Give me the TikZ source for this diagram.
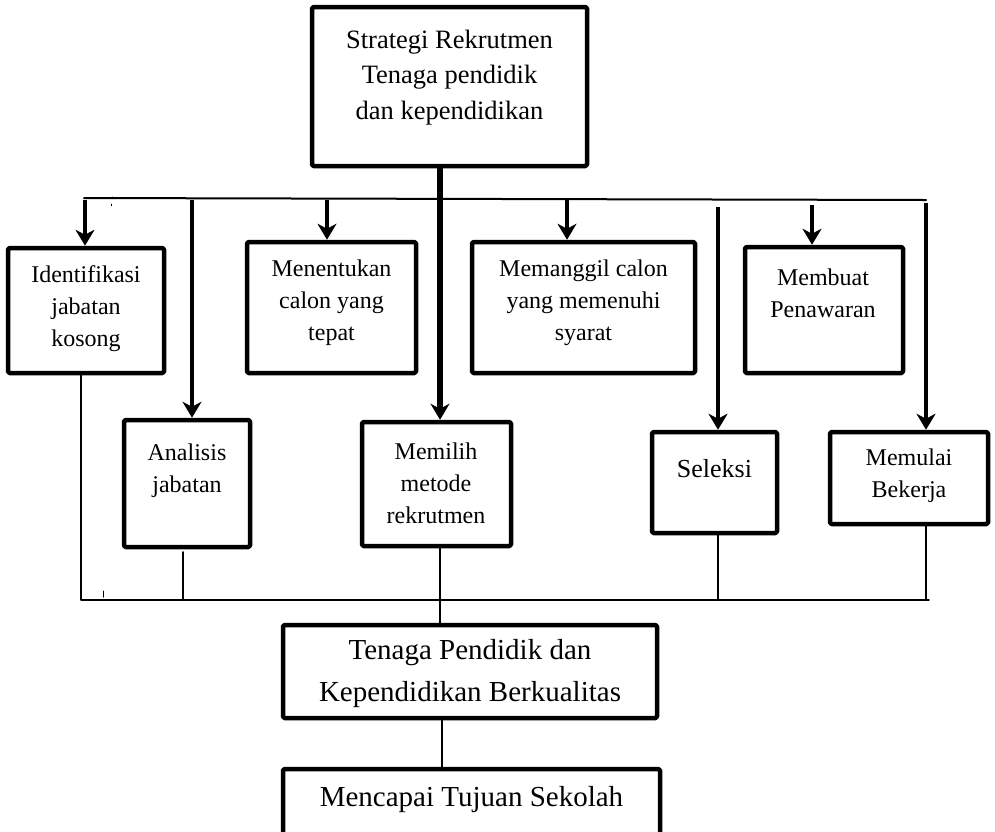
\documentclass[tikz,border=0pt]{standalone}
\usepackage{fontspec}
\setmainfont{Liberation Serif}
\usetikzlibrary{arrows.meta}

\begin{document}
\begin{tikzpicture}[line cap=round,line join=round,>={Stealth[length=16pt,width=19pt,inset=5pt]},x=1pt,y=-1pt,
		kotak/.style={draw,line width=4.5pt,rounded corners=1.5pt,inner sep=0pt},
		teks/.style={align=center,inner sep=0pt,font=\fontsize{24}{32}\selectfont},
		panah/.style={->,line width=4pt,line cap=butt},
		garis/.style={line width=1.6pt}]
		\useasboundingbox (0,0) rectangle (995,831);
		\clip (0,0) rectangle (995,831);
		% kotak
		\node[kotak,minimum width=275pt,minimum height=159pt] (strategi) at (449.5,86.5) {};
		\node[kotak,minimum width=156pt,minimum height=125pt] (iden) at (86,310.5) {};
		\node[kotak,minimum width=126pt,minimum height=127pt] (anal) at (187,483.5) {};
		\node[kotak,minimum width=169pt,minimum height=131pt] (menen) at (331.5,307.5) {};
		\node[kotak,minimum width=149pt,minimum height=124pt] (memilih) at (436.5,484) {};
		\node[kotak,minimum width=223pt,minimum height=131pt] (memang) at (583.5,307.5) {};
		\node[kotak,minimum width=125pt,minimum height=101pt] (seleksi) at (714.5,482.5) {};
		\node[kotak,minimum width=158pt,minimum height=126pt] (membuat) at (824,310) {};
		\node[kotak,minimum width=158pt,minimum height=92pt] (memulai) at (909,478) {};
		\node[kotak,minimum width=374pt,minimum height=93pt] (tenaga) at (470,671.5) {};
		\node[kotak,minimum width=377pt,minimum height=80pt] (mencapai) at (471.5,809) {};
		% teks
		\node[teks,font=\fontsize{26.5}{35.5}\selectfont] (strategi-t) at (449.5,77.5) {Strategi Rekrutmen\\Tenaga pendidik\\dan kependidikan};
		\node[teks] (iden-t) at (86,309) {Identifikasi\\jabatan\\kosong};
		\node[teks] (anal-t) at (187,471) {Analisis\\jabatan};
		\node[teks] (menen-t) at (331.5,303) {Menentukan\\calon yang\\tepat};
		\node[teks] (memilih-t) at (436,483) {Memilih\\metode\\rekrutmen};
		\node[teks] (memang-t) at (583.5,303) {Memanggil calon\\yang memenuhi\\syarat};
		\node[teks,font=\fontsize{26}{32}\selectfont] (seleksi-t) at (714.5,469) {Seleksi};
		\node[teks] (membuat-t) at (823,293) {Membuat\\Penawaran};
		\node[teks] (memulai-t) at (909,476) {Memulai\\Bekerja};
		\node[teks,font=\fontsize{29}{42}\selectfont] (tenaga-t) at (470,674) {Tenaga Pendidik dan\\Kependidikan Berkualitas};
		\node[teks,font=\fontsize{29}{42}\selectfont] (mencapai-t) at (471.5,800) {Mencapai Tujuan Sekolah};
		% garis atas dan panah
		\coordinate (atas kiri) at (84,198);
		\coordinate (atas kanan) at (926,200);
		\coordinate (pusat) at (440,0);
		\draw [line width=2pt] (atas kiri)-- (atas kanan);
		\draw [panah,line width=5.5pt] (strategi.south -| pusat)-- (memilih.north -| pusat);
		\coordinate (p1) at (85,200);
		\coordinate (p2) at (192,200);
		\coordinate (p3) at (327,200);
		\coordinate (p4) at (567,200);
		\coordinate (p5) at (718,207);
		\coordinate (p6) at (812,205);
		\coordinate (p7) at (926,203);
		\draw [panah] (p1)-- (p1 |- iden.north);
		\draw [panah] (p2)-- (p2 |- anal.north);
		\draw [panah] (p3)-- (p3 |- menen.north);
		\draw [panah] (p4)-- (p4 |- memang.north);
		\draw [panah] (p5)-- (p5 |- seleksi.north);
		\draw [panah] (p6)-- (p6 |- membuat.north);
		\draw [panah] (p7)-- (p7 |- memulai.north);
		% garis bawah
		\coordinate (bawah kiri) at (81,600);
		\coordinate (bawah kanan) at (929,600);
		\coordinate (q2) at (183,552);
		\draw [garis] (iden.south -| bawah kiri)-- (bawah kiri)-- (bawah kanan);
		\draw [garis] (q2)-- (q2 |- bawah kiri);
		\draw [garis] (memilih.south -| pusat)-- (tenaga.north -| pusat);
		\draw [garis] (seleksi.south -| p5)-- (p5 |- bawah kiri);
		\draw [garis] (memulai.south -| p7)-- (p7 |- bawah kiri);
		\coordinate (q8) at (442,0);
		\draw [garis] (tenaga.south -| q8)-- (mencapai.north -| q8);
		% tanda kecil
		\draw [line width=1pt] (112,197)-- (112,198.5);
		\draw [line width=1pt] (111,204)-- (111,205.5);
		\draw [line width=1pt] (103,591)-- (103,597);
	\end{tikzpicture}
\end{document}
